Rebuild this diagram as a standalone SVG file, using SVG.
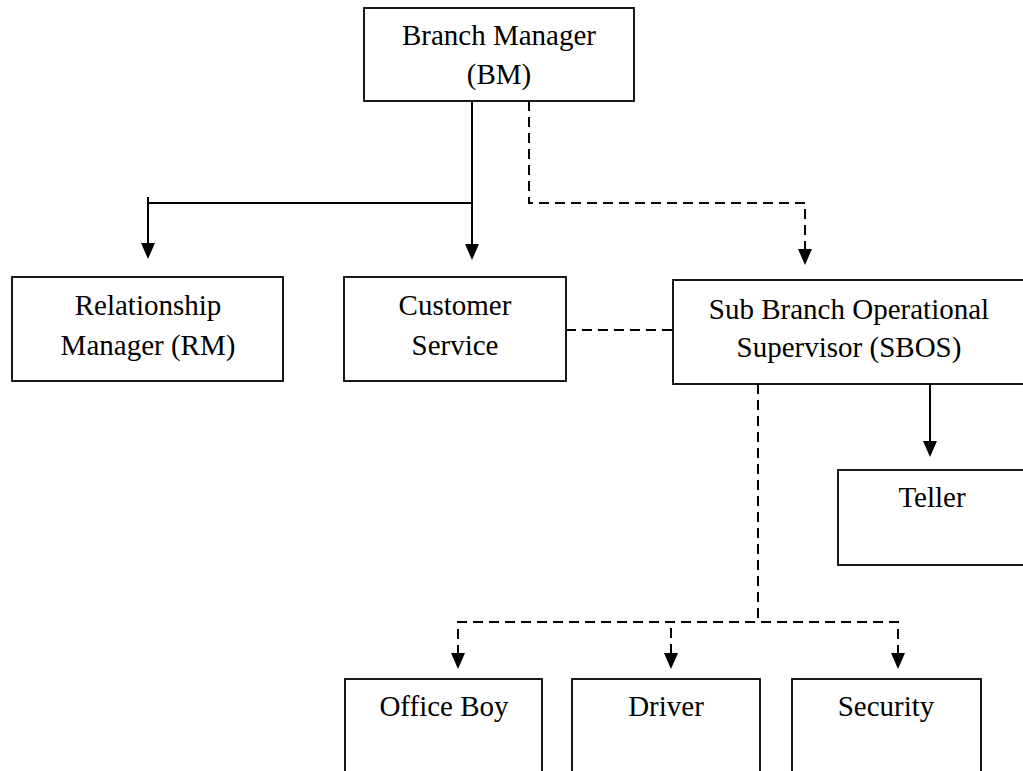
<svg xmlns="http://www.w3.org/2000/svg" width="1023" height="771" viewBox="0 0 1023 771">
<style>
.box{fill:#fff;stroke:#000;stroke-width:1.8}
.t{font-family:"Liberation Serif","Times New Roman",serif;font-size:29px;fill:#000;text-anchor:middle}
.s{fill:none;stroke:#000;stroke-width:2}
.d{fill:none;stroke:#000;stroke-width:2;stroke-dasharray:10 6}
.h{fill:#000}
</style>
<defs>
<path id="head" d="M-7,-16 L7,-16 L0,0 Z"/>
</defs>
<rect width="1023" height="771" fill="#fff"/>
<g id="connectors">
<path class="s" d="M472,101 V250"/>
<use href="#head" class="h" x="472" y="260"/>
<path class="s" d="M148,197 V203 H472"/>
<path class="s" d="M148,203 V250"/>
<use href="#head" class="h" x="148" y="259"/>
<path class="d" d="M529,101 V203 H805 V250"/>
<use href="#head" class="h" x="805" y="265"/>
<path class="d" d="M566,330 H673"/>
<path class="s" d="M930,384 V445"/>
<use href="#head" class="h" x="930" y="457"/>
<path class="d" d="M758,384 V622"/>
<path class="d" d="M458,655 V622 H898 V655"/>
<path class="d" d="M671,628 V655"/>
<use href="#head" class="h" x="458" y="669"/>
<use href="#head" class="h" x="671" y="669"/>
<use href="#head" class="h" x="898" y="669"/>
</g>
<g id="bm">
<rect class="box" x="364" y="8" width="270" height="93"/>
<text class="t" x="499" y="45">Branch Manager</text>
<text class="t" x="499" y="84">(BM)</text>
</g>
<g id="rm">
<rect class="box" x="12" y="277" width="271" height="104"/>
<text class="t" x="148" y="315">Relationship</text>
<text class="t" x="148" y="355">Manager (RM)</text>
</g>
<g id="cs">
<rect class="box" x="344" y="277" width="222" height="104"/>
<text class="t" x="455" y="315">Customer</text>
<text class="t" x="455" y="355">Service</text>
</g>
<g id="sbos">
<rect class="box" x="673" y="280" width="360" height="104"/>
<text class="t" x="849" y="319">Sub Branch Operational</text>
<text class="t" x="849" y="357">Supervisor (SBOS)</text>
</g>
<g id="teller">
<rect class="box" x="838" y="470" width="200" height="95"/>
<text class="t" x="932" y="507">Teller</text>
</g>
<g id="officeboy">
<rect class="box" x="345" y="679" width="197" height="120"/>
<text class="t" x="444" y="716">Office Boy</text>
</g>
<g id="driver">
<rect class="box" x="572" y="679" width="188" height="120"/>
<text class="t" x="666" y="716">Driver</text>
</g>
<g id="security">
<rect class="box" x="792" y="679" width="189" height="120"/>
<text class="t" x="886" y="716">Security</text>
</g>
</svg>
